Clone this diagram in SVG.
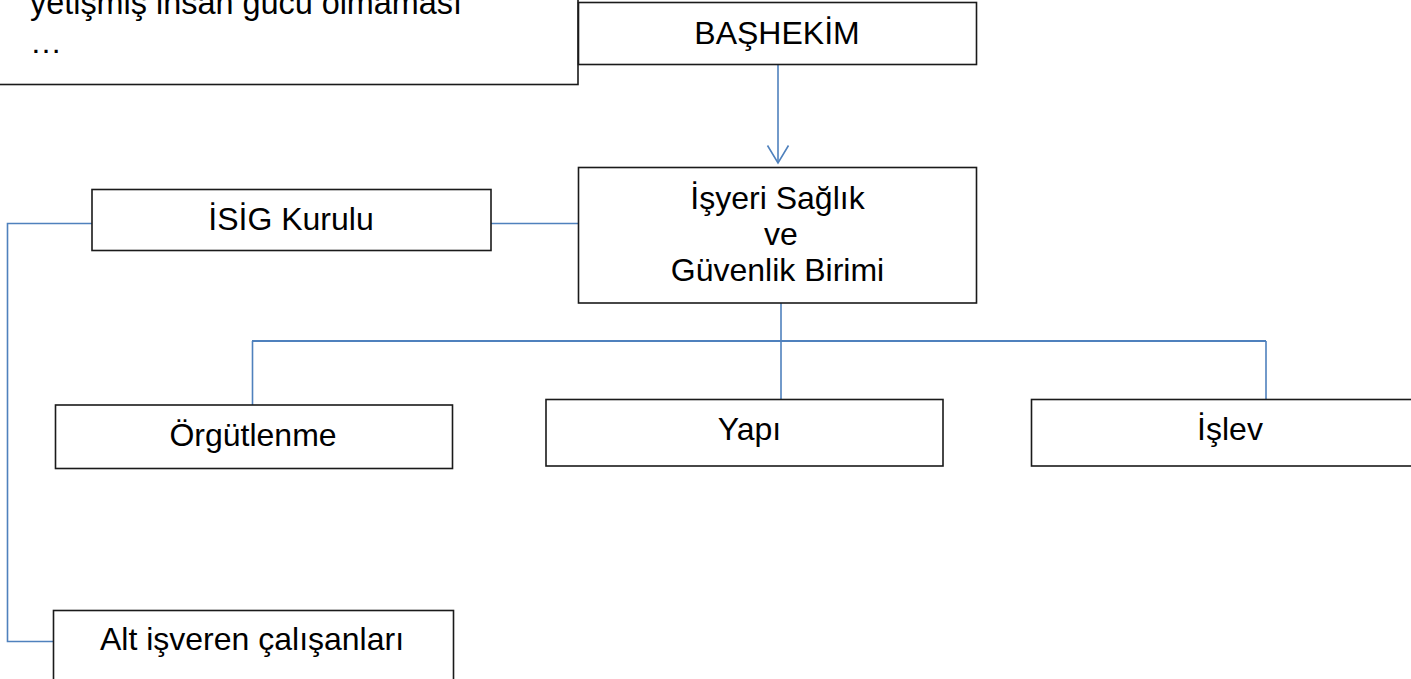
<svg xmlns="http://www.w3.org/2000/svg" width="1411" height="679" viewBox="0 0 1411 679">
  <defs>
    <style>
      .box { fill: #ffffff; stroke: #1a1a1a; stroke-width: 1.6; }
      .t { font-family: "Liberation Sans", Arial, sans-serif; font-size: 32px; fill: #000000; }
      .c { text-anchor: middle; }
      .conn { fill: none; stroke: #4F81BD; stroke-width: 1.6; }
    </style>
  </defs>

  <g id="connectors">
    <line class="conn" x1="778" y1="64" x2="778" y2="163"/>
    <path class="conn" d="M767.5,145.5 L778,163 L788.5,145.5"/>
    <line class="conn" x1="491" y1="223.5" x2="578" y2="223.5"/>
    <path class="conn" d="M92,223.5 L7.5,223.5 L7.5,641.5 L53,641.5"/>
    <line class="conn" x1="781" y1="303" x2="781" y2="399"/>
    <line class="conn" x1="252" y1="341" x2="1266" y2="341" style="stroke-width:2.2"/>
    <line class="conn" x1="252.5" y1="341" x2="252.5" y2="405"/>
    <line class="conn" x1="1266" y1="341" x2="1266" y2="399"/>
  </g>

  <g id="note">
    <rect class="box" x="-10" y="-10" width="588" height="94.5"/>
    <text class="t" x="30" y="14" style="font-size:32.4px">yetişmiş insan gücü olmaması</text>
    <text class="t" x="30" y="53">…</text>
  </g>

  <g id="bashekim">
    <rect class="box" x="578.5" y="2.5" width="398" height="62"/>
    <text class="t c" x="777" y="43.5">BAŞHEKİM</text>
  </g>

  <g id="isg-birimi">
    <rect class="box" x="578.5" y="167.5" width="398" height="135.5"/>
    <text class="t c" x="777.5" y="208.5">İşyeri Sağlık</text>
    <text class="t c" x="781" y="245">ve</text>
    <text class="t c" x="777.5" y="281">Güvenlik Birimi</text>
  </g>

  <g id="isig-kurulu">
    <rect class="box" x="92" y="189.5" width="399" height="61"/>
    <text class="t c" x="291" y="230">İSİG Kurulu</text>
  </g>

  <g id="orgutlenme">
    <rect class="box" x="55.5" y="405" width="397" height="63.5"/>
    <text class="t c" x="253" y="445.5">Örgütlenme</text>
  </g>

  <g id="yapi">
    <rect class="box" x="546" y="399.5" width="397" height="66.5"/>
    <text class="t c" x="749.5" y="439.5">Yapı</text>
  </g>

  <g id="islev">
    <rect class="box" x="1031.5" y="399.5" width="397" height="66.5"/>
    <text class="t c" x="1230" y="440">İşlev</text>
  </g>

  <g id="alt-isveren">
    <rect class="box" x="53.5" y="610.5" width="400" height="80"/>
    <text class="t c" x="252" y="650">Alt işveren çalışanları</text>
  </g>
</svg>
